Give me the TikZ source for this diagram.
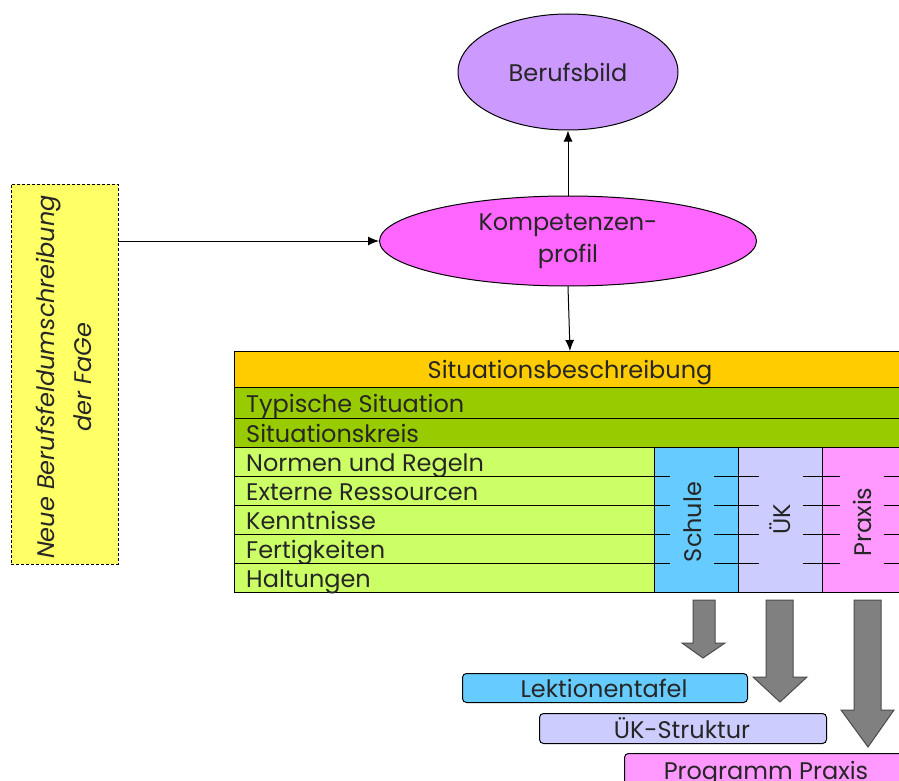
\documentclass[tikz,border=0pt]{standalone}
\usepackage{fontspec}
\setmainfont{Poppins}
\usetikzlibrary{shapes.geometric,arrows.meta}
\definecolor{cOrange}{HTML}{FFCC00}
\definecolor{cDark}{HTML}{99CC00}
\definecolor{cLight}{HTML}{CCFF66}
\definecolor{cSchule}{HTML}{66CCFF}
\definecolor{cUK}{HTML}{CCCCFF}
\definecolor{cPraxis}{HTML}{FF99FF}
\definecolor{cBild}{HTML}{CC99FF}
\definecolor{cKomp}{HTML}{FF66FF}
\definecolor{cYellow}{HTML}{FFFF66}
\definecolor{cGray}{HTML}{808080}
\tikzset{
  every node/.style={font=\fontsize{24}{28}\selectfont, text=black!85},
  cell/.style={draw=black, line width=1pt, anchor=north west, inner sep=0pt, outer sep=0pt},
  rowtext/.style={anchor=base west, inner sep=0pt},
  oval/.style={ellipse, draw=black, line width=1pt, inner sep=0pt},
  conn/.style={-{Latex[length=11pt,width=9pt]}, line width=1pt},
  tick/.style={line width=1pt},
  blockarrow/.style={fill=cGray, draw=black!70, line width=1pt, line join=miter},
  rbox/.style={draw=black, line width=1pt, rounded corners=4pt, anchor=north west, inner sep=0pt}
}
\begin{document}
\begin{tikzpicture}[x=1pt,y=-1pt]
\clip (0,0) rectangle (899,781);
\fill[white] (0,0) rectangle (899,781);
% ellipses
\node[oval, fill=cBild, minimum width=220pt, minimum height=116pt] (bild) at (568,72) {Berufsbild};
\node[oval, fill=cKomp, minimum width=377pt, minimum height=90pt, align=center, font=\fontsize{24}{32}\selectfont] (komp) at (568,241) {Kompetenzen-\\profil};
% yellow box
\node[cell, dash pattern=on 3pt off 2pt, fill=cYellow, minimum width=107pt, minimum height=380pt] (gelb) at (11,184) {};
\node[rotate=90, align=center, font=\fontsize{24}{37}\selectfont\itshape] (gelbtext) at (64,377) {Neue Berufsfeldumschreibung\\der FaGe};
% table
\node[cell, fill=cOrange, minimum width=680pt, minimum height=36pt] (sit) at (234,351) {};
\node[anchor=base, inner sep=0pt] (sittext) at (570,378) {Situationsbeschreibung};
\node[cell, fill=cDark, minimum width=680pt, minimum height=31pt] (typ) at (234,387) {};
\node[rowtext] (typtext) at (246,412) {Typische Situation};
\node[cell, fill=cDark, minimum width=680pt, minimum height=29pt] (kreis) at (234,418) {};
\node[rowtext] (kreistext) at (246,442) {Situationskreis};
\foreach \i/\t in {0/Normen und Regeln,1/Externe Ressourcen,2/Kenntnisse,3/Fertigkeiten,4/Haltungen}{
  \node[cell, fill=cLight, minimum width=420pt, minimum height=29pt] (r\i) at (234,{447+29*\i}) {};
  \node[rowtext] (rt\i) at (246,{471+29*\i}) {\t};
}
\node[cell, fill=cSchule, minimum width=84pt, minimum height=145pt] (schule) at (654,447) {};
\node[cell, fill=cUK, minimum width=84pt, minimum height=145pt] (uk) at (738,447) {};
\node[cell, fill=cPraxis, minimum width=90pt, minimum height=145pt] (praxis) at (822,447) {};
\node[rotate=90] (schuletext) at (693,522) {Schule};
\node[rotate=90] (uktext) at (780,519) {ÜK};
\node[rotate=90] (praxistext) at (862,522) {Praxis};
\foreach \y in {476,505,534,563}{
  \draw[tick] (654,\y) -- (670,\y) (714,\y) -- (759,\y) (803,\y) -- (840,\y) (884,\y) -- (899,\y);
}
% connectors
\draw[conn] (komp.north) -- (bild.south);
\draw[conn] (komp.south) -- (sit.north -| 570,0);
\draw[conn] (gelb.east |- komp.west) -- (komp.west);
% block arrows
\draw[blockarrow] (693,600) -- (715,600) -- (715,643) -- (725,643) -- (703,658) -- (682,643) -- (693,643) -- cycle;
\draw[blockarrow] (766,600) -- (793,600) -- (793,677) -- (807,677) -- (780,702) -- (753,677) -- (766,677) -- cycle;
\draw[blockarrow] (854,600) -- (881,600) -- (881,710) -- (894,710) -- (868,747) -- (841,710) -- (854,710) -- cycle;
% result boxes
\node[rbox, fill=cSchule, minimum width=285pt, minimum height=29pt] (lekt) at (462,673) {};
\node[anchor=base, inner sep=0pt] (lekttext) at (604,697) {Lektionentafel};
\node[rbox, fill=cUK, minimum width=287pt, minimum height=30pt] (ukstr) at (539,713) {};
\node[anchor=base, inner sep=0pt] (ukstrtext) at (682,738) {ÜK-Struktur};
\node[rbox, fill=cPraxis, minimum width=290pt, minimum height=40pt] (prog) at (624,753) {};
\node[anchor=base, inner sep=0pt] (progtext) at (766,779) {Programm Praxis};
\end{tikzpicture}
\end{document}
